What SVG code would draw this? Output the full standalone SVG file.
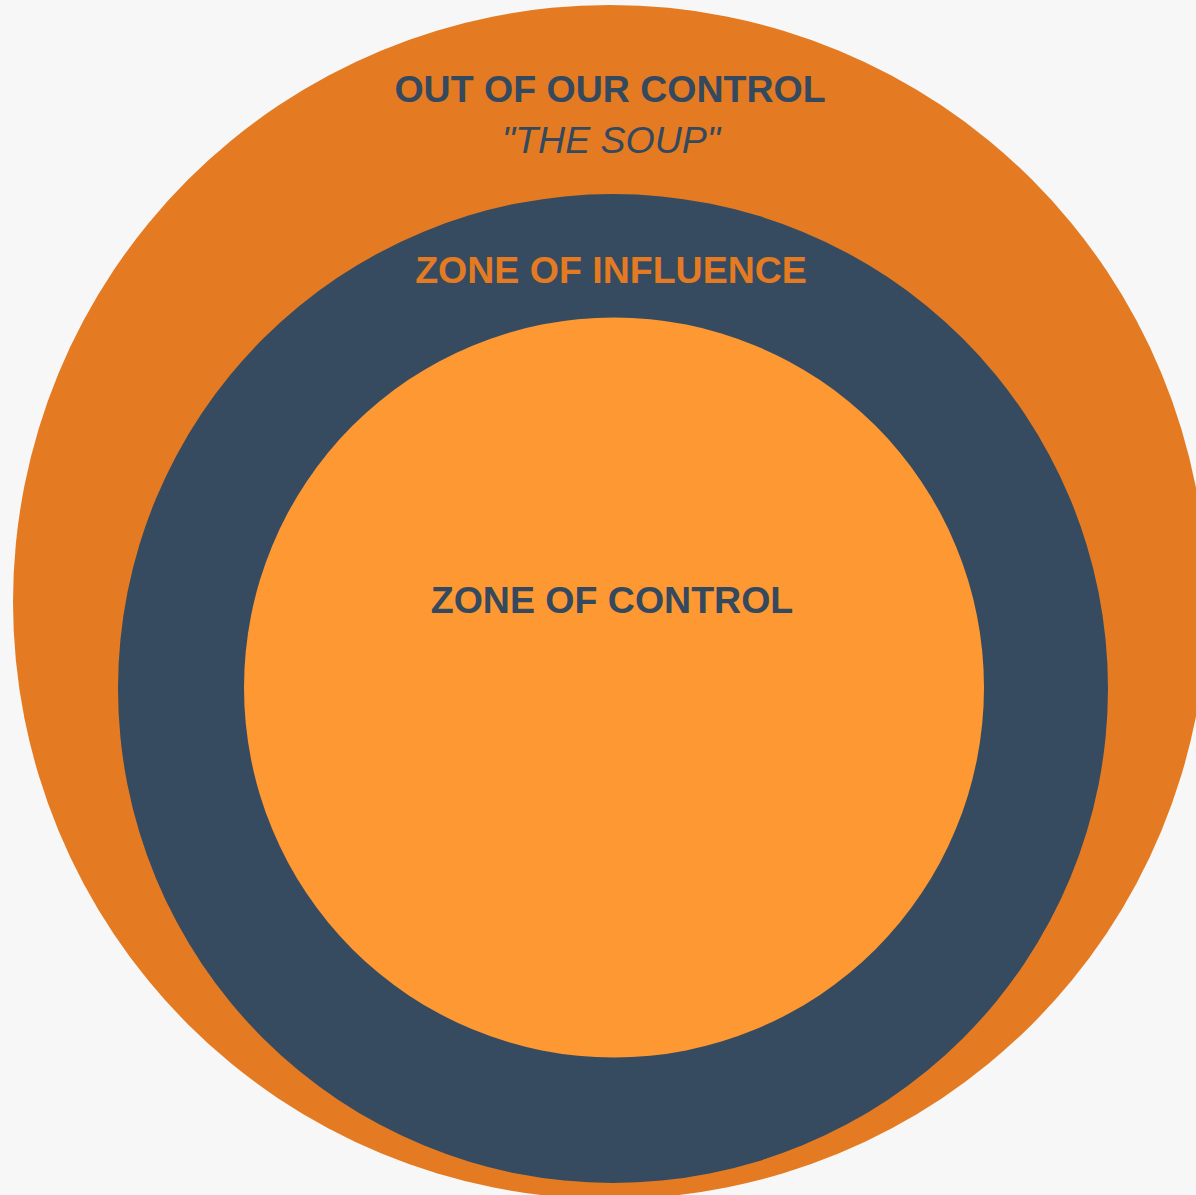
<svg xmlns="http://www.w3.org/2000/svg" width="1196" height="1195" viewBox="0 0 1196 1195">
<style>
.t{font-family:"Liberation Sans",Arial,sans-serif;font-size:37.5px;text-anchor:middle}
.b{font-weight:bold}
.i{font-style:italic}
</style>
<rect width="1196" height="1195" fill="#F7F7F7"/>
<g id="outer">
<circle cx="610" cy="602" r="597" fill="#E47B22"/>
<text class="t b" x="610" y="102" fill="#34495E">OUT OF OUR CONTROL</text>
<text class="t i" x="611" y="153" fill="#34495E">"THE SOUP"</text>
</g>
<g id="influence">
<ellipse cx="613" cy="688.5" rx="495" ry="494.5" fill="#364B60"/>
<text class="t b" x="611" y="283" fill="#E47B22">ZONE OF INFLUENCE</text>
</g>
<g id="control">
<circle cx="614" cy="687.5" r="370" fill="#FD9833"/>
<text class="t b" x="612" y="613" fill="#34495E">ZONE OF CONTROL</text>
</g>
<g id="connectors"/>
</svg>
